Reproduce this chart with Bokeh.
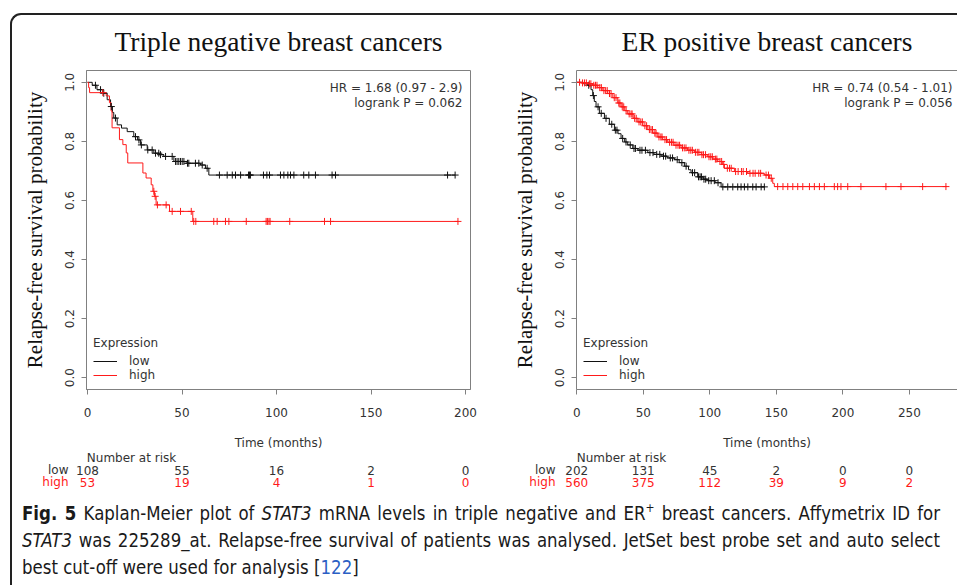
import numpy as np
from bokeh.plotting import figure
from bokeh.models import (ColumnDataSource, Label, Legend, LegendItem, LinearAxis, Range1d,
                          FixedTicker, NumeralTickFormatter, Div, InlineStyleSheet)
from bokeh.layouts import column, row
from bokeh.embed import file_html
from bokeh.resources import INLINE
from bokeh.core.properties import value

# ---------------- data : triple negative ----------------
tn_low_t = [0, 2.5, 5, 8, 10.4, 12.2, 13.2, 13.9, 15.7, 18, 21, 24.5, 26.5, 28, 31.6, 35.1, 38,
            40.4, 45.7, 52.7, 59.8, 62.4, 64.2, 194.5]
tn_low_s = [1.0, 0.99, 0.975, 0.963, 0.941, 0.918, 0.898, 0.879, 0.856, 0.845, 0.833, 0.816, 0.805,
            0.788, 0.771, 0.760, 0.755, 0.749, 0.732, 0.726, 0.720, 0.709, 0.686, 0.686]
tn_low_cens = [4.2, 6.9, 8.6, 12.6, 14.8, 25.4, 27.2, 28.5, 31.9, 34.2, 36, 37.7, 38.6, 41.3, 44.8,
               46.6, 47.4, 48.3, 49.2, 50.1, 51, 52.9, 53.6, 57.1, 58.9, 60.7, 63.3, 69.8, 73.9, 76.6,
               78.3, 81, 85.2, 85.7, 86.2, 93.1, 94.9, 96.3, 102.1, 103.9, 106, 107.4, 109.2, 114.4,
               117.1, 120.6, 129.4, 131.2, 190.5, 194.5]
tn_high_t = [0, 0.6, 1.1, 9.9, 11.6, 12.5, 13.0, 16.9, 18.7, 20.5, 21.3, 29.3, 31.0, 33.7, 34.6,
             35.4, 36.3, 43.4, 55.7, 196]
tn_high_s = [1.0, 0.982, 0.965, 0.954, 0.931, 0.903, 0.846, 0.806, 0.789, 0.761, 0.727, 0.693,
             0.676, 0.653, 0.631, 0.614, 0.585, 0.563, 0.529, 0.529]
tn_high_cens = [8.1, 35.1, 35.8, 37.0, 41.6, 44.8, 49.2, 54.9, 56.2, 57.3, 66.8, 68.6, 73.0, 74.8,
                84.0, 94.5, 95.2, 96.0, 96.6, 107.0, 125.4, 128.6, 196]
tn_risk_t = [0, 50, 100, 150, 200]
tn_risk_low = [108, 55, 16, 2, 0]
tn_risk_high = [53, 19, 4, 1, 0]
tn_hr = ["HR = 1.68 (0.97 - 2.9)", "logrank P = 0.062"]
tn_xticks = [0, 50, 100, 150, 200]

# ---------------- data : ER positive ----------------
er_low_t = [0, 5, 8.2, 10.7, 12, 13.2, 14.5, 17, 20.8, 24.5, 28.3, 31, 33.3, 36, 38.3, 42.1, 45.9,
            53.4, 58, 63.4, 68, 73.4, 77, 80.9, 84, 85.9, 90.9, 95, 98.5, 104, 108.5, 141]
er_low_s = [1.0, 0.995, 0.99, 0.975, 0.955, 0.935, 0.917, 0.895, 0.878, 0.858, 0.838, 0.826, 0.81,
            0.798, 0.788, 0.776, 0.77, 0.762, 0.756, 0.75, 0.744, 0.738, 0.728, 0.716, 0.704, 0.694,
            0.68, 0.672, 0.667, 0.66, 0.646, 0.646]
er_low_cens = [9, 12.5, 16, 18.4, 22, 26.3, 29, 30.2, 34.5, 37, 40.2, 43, 44.1, 47.5, 49, 51.6, 55,
               57.3, 60.1, 62.4, 65.2, 66.8, 70.3, 72, 75.5, 79, 82.2, 87, 88.6, 91.5, 92.7, 93.8,
               95.6, 96.9, 99.2, 101, 103.4, 106.2, 109.8, 113.5, 117.3, 121, 123.5, 126, 128.6,
               132.3, 134.8, 138.6, 141]
er_high_t = [0, 3.5, 8.4, 11.9, 15.8, 19.6, 23.3, 27.1, 30.8, 33.3, 36.1, 38.3, 42.4, 45.9, 49.7,
             53.4, 57.2, 60.9, 64.6, 68.4, 73.1, 78.4, 83.2, 88.4, 93.6, 98.5, 102.3, 106, 109.7,
             111, 118.5, 128.5, 141, 144.8, 147.3, 148.5, 278]
er_high_s = [1.0, 0.998, 0.995, 0.99, 0.982, 0.972, 0.962, 0.948, 0.93, 0.917, 0.904, 0.893, 0.878,
             0.866, 0.853, 0.84, 0.828, 0.815, 0.806, 0.797, 0.787, 0.778, 0.77, 0.763, 0.755,
             0.748, 0.74, 0.732, 0.722, 0.709, 0.698, 0.692, 0.686, 0.675, 0.658, 0.647, 0.647]
er_high_cens = [2.1, 4.3, 5.8, 7.2, 9.5, 10.6, 12.8, 14.1, 15.2, 17.3, 18.5, 20.4, 21.7, 22.9, 24.6,
                25.8, 28.2, 29.5, 31.6, 32.4, 34.2, 35.3, 37.1, 39.4, 40.8, 41.6, 43.5, 44.7, 46.8,
                48.1, 49.3, 51.2, 52.5, 54.6, 55.8, 56.9, 58.7, 59.6, 61.8, 63.2, 64.1, 66.3, 67.5,
                69.8, 71.2, 72.4, 74.6, 76.1, 77.3, 79.5, 80.8, 82.1, 84.3, 85.7, 86.9, 89.2, 90.6,
                91.8, 94.1, 95.3, 96.8, 99.4, 100.7, 101.9, 104.2, 105.3, 107.6, 108.9, 110.5,
                113.2, 114.8, 116.1, 119.4, 121.3, 123.8, 125.1, 127.6, 130.2, 132.5, 134.1, 136.8,
                138.2, 142.3, 144.1, 146.2, 151, 155, 158.6, 162.4, 166.1, 169.9, 174.9, 178.6,
                182.4, 186.1, 193.6, 196.1, 198.6, 203.7, 213.6, 232.4, 243.7, 260, 277.5]
er_risk_t = [0, 50, 100, 150, 200, 250]
er_risk_low = [202, 131, 45, 2, 0, 0]
er_risk_high = [560, 375, 112, 39, 9, 2]
er_hr = ["HR = 0.74 (0.54 - 1.01)", "logrank P = 0.056"]
er_xticks = [0, 50, 100, 150, 200, 250]

y_ticks = [0.0, 0.2, 0.4, 0.6, 0.8, 1.0]
titles = ["Triple negative breast cancers", "ER positive breast cancers"]
y_label = "Relapse-free survival probability"
x_label = "Time (months)"
groups = ["low", "high"]
risk_title = "Number at risk"

# ---------------- styles ----------------
SANS = "DejaVu Sans"
SERIF = "Liberation Serif"
TXT = "#333333"
BLK = "#111111"
RED = "#ff1a1a"
BOX = "#808080"
MAIN_H = 452
TABLE_H = 38
CAP_H = 95


def step_at(t, s, c):
    t = np.asarray(t)
    s = np.asarray(s)
    idx = np.searchsorted(t, np.asarray(c), side="right") - 1
    return s[idx]


def make_panel(title, width, mb_left, mb_right, x_range, xticks, low, high, hr, hr_x, full_box):
    p = figure(width=width, height=MAIN_H, x_range=x_range, y_range=(-0.04, 1.04),
               output_backend="svg", toolbar_location=None,
               min_border_left=mb_left, min_border_right=mb_right,
               min_border_top=70, min_border_bottom=MAIN_H - 70 - 319)
    p.background_fill_color = "white"
    p.border_fill_color = "white"
    p.grid.visible = False
    p.outline_line_color = BOX if full_box else None

    p.title.text = title
    p.title.text_font = SERIF
    p.title.text_font_size = "27.5px"
    p.title.text_font_style = "normal"
    p.title.text_color = BLK
    p.title.align = "center"
    p.title.standoff = 27

    for ax in (p.xaxis[0], p.yaxis[0]):
        ax.axis_line_color = BOX
        ax.major_tick_line_color = BOX
        ax.major_tick_out = 5
        ax.major_tick_in = 0
        ax.minor_tick_out = 0
        ax.minor_tick_in = 0
        ax.major_label_text_font = SANS
        ax.major_label_text_font_size = "12px"
        ax.major_label_text_color = TXT
    p.xaxis.ticker = FixedTicker(ticks=xticks)
    p.xaxis.major_label_standoff = 13
    p.xaxis.axis_label = x_label
    p.xaxis.axis_label_text_font = SANS
    p.xaxis.axis_label_text_font_size = "12px"
    p.xaxis.axis_label_text_font_style = "normal"
    p.xaxis.axis_label_text_color = TXT
    p.xaxis.axis_label_standoff = 16

    p.yaxis.ticker = FixedTicker(ticks=y_ticks)
    p.yaxis.formatter = NumeralTickFormatter(format="0.0")
    p.yaxis.major_label_orientation = "vertical"
    p.yaxis.major_label_standoff = 7
    p.yaxis.axis_label = y_label
    p.yaxis.axis_label_text_font = SERIF
    p.yaxis.axis_label_text_font_size = "21px"
    p.yaxis.axis_label_text_font_style = "normal"
    p.yaxis.axis_label_text_color = BLK
    p.yaxis.axis_label_standoff = 16

    if not full_box:
        top = LinearAxis(ticker=FixedTicker(ticks=[]), axis_line_color=BOX,
                         major_label_text_font_size="0px", major_tick_out=0, major_tick_in=0,
                         minor_tick_out=0, minor_tick_in=0, major_label_standoff=0)
        p.add_layout(top, "above")

    (lt, ls, lc), (ht, hs, hc) = low, high
    r_low = p.step(lt, ls, mode="after", line_color=BLK, line_width=1)
    r_high = p.step(ht, hs, mode="after", line_color=RED, line_width=1)
    p.scatter(lc, step_at(lt, ls, lc), marker="cross", size=7, line_color=BLK, line_width=1)
    p.scatter(hc, step_at(ht, hs, hc), marker="cross", size=7, line_color=RED, line_width=1)

    legend = Legend(items=[LegendItem(label=groups[0], renderers=[r_low]),
                           LegendItem(label=groups[1], renderers=[r_high])],
                    title="Expression", location=(7, 7),
                    title_text_font=SANS, title_text_font_size="12px",
                    title_text_font_style="normal", title_text_color=TXT, title_standoff=4,
                    label_text_font=SANS, label_text_font_size="12px", label_text_color=TXT,
                    border_line_color=None, background_fill_alpha=0, padding=0, margin=0,
                    spacing=0, glyph_width=24, glyph_height=14, label_height=14,
                    label_standoff=12)
    p.add_layout(legend)

    for i, txt in enumerate(hr):
        p.add_layout(Label(x=hr_x, y=302 - 15 * i, x_units="screen", y_units="screen", text=txt,
                           text_align="right", text_baseline="middle", text_font=SANS,
                           text_font_size="12px", text_color=TXT))
    return p


pl = make_panel(titles[0], 495, 86, 25, (-0.53, 202.64), tn_xticks,
                (tn_low_t, tn_low_s, tn_low_cens), (tn_high_t, tn_high_s, tn_high_cens),
                tn_hr, 376, True)
pr = make_panel(titles[1], 462, 81, 0, (-0.2, 286.2), er_xticks,
                (er_low_t, er_low_s, er_low_cens), (er_high_t, er_high_s, er_high_cens),
                er_hr, 376, False)

# one strip for both "number at risk" tables; each table keeps its panel's time scale
tab = figure(width=957, height=TABLE_H, x_range=Range1d(-46.03, 460.32),
             y_range=Range1d(2.667, -0.5), extra_x_ranges={"er": Range1d(-433.15, 286.18)},
             output_backend="svg", toolbar_location=None, title=None,
             x_axis_location=None, y_axis_location=None,
             min_border_left=0, min_border_right=0, min_border_top=0, min_border_bottom=0)
tab.grid.visible = False
tab.outline_line_color = None
tab.background_fill_color = "white"
tab.border_fill_color = "white"


def add_table(risk, row_x, title_x, rng):
    rt, rl, rh = risk
    common = dict(text_baseline="middle", text_font=value(SANS), text_font_size=value("12px"),
                  x_range_name=rng)
    tab.text(x=[title_x], y=[0], text=[risk_title], text_align="center", text_color=TXT, **common)
    for j, (name, counts, col) in enumerate(((groups[0], rl, TXT), (groups[1], rh, RED))):
        tab.text(x=[row_x], y=[j + 1], text=[name], text_align="right", text_color=col, **common)
        src = ColumnDataSource(dict(x=rt, y=[j + 1] * len(rt), t=[str(v) for v in counts]))
        tab.text(x="x", y="y", text="t", source=src, text_align="center", text_color=col, **common)


add_table((tn_risk_t, tn_risk_low, tn_risk_high), -10.05, 23.28, "default")
add_table((er_risk_t, er_risk_low, er_risk_high), -15.98, 33.6, "er")

line_style = ("width:1106px;height:27px;line-height:27px;white-space:nowrap;"
              "transform:scaleX(0.83);transform-origin:0 0;")
just = "text-align:justify;text-align-last:justify;"
caption_html = (
    '<div style="box-sizing:border-box;height:95px;width:957px;overflow:hidden;'
    'padding:9.5px 0 0 22px;color:#1a1a1a;'
    "font-family:'DejaVu Sans',sans-serif;font-size:20px;\">"
    f'<div style="{line_style}{just}"><b>Fig. 5</b> Kaplan-Meier plot of <i>STAT3</i> mRNA levels '
    'in triple negative and ER<sup style="line-height:0;font-size:13px">+</sup> breast cancers. '
    'Affymetrix ID for</div>'
    f'<div style="{line_style}{just}"><i>STAT3</i> was 225289_at. Relapse-free survival of patients '
    'was analysed. JetSet best probe set and auto select</div>'
    f'<div style="{line_style}">best cut-off were used for analysis '
    '[<span style="color:#2b5fc4">122</span>]</div>'
    '</div>')
cap = Div(text=caption_html, width=957, height=CAP_H, margin=0)

frame_css = InlineStyleSheet(css=(
    ":host::before { content: ''; position: absolute; left: 9.5px; top: 13px; "
    "width: 945px; height: 570px; border-top: 2px solid #222; border-left: 2px solid #222; "
    "border-top-left-radius: 11px; z-index: 10; pointer-events: none; box-sizing: content-box; }"))

layout = column(row(pl, pr), tab, cap, stylesheets=[frame_css])
open("out.html", "w").write(file_html(layout, INLINE))
